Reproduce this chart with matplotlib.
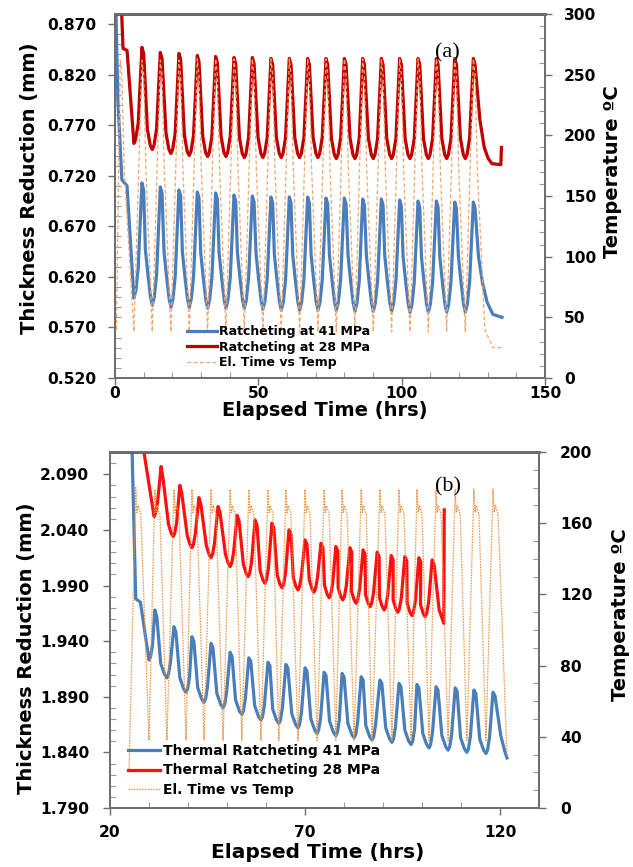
import matplotlib.pyplot as plt
from matplotlib.ticker import MultipleLocator, FixedLocator, FormatStrFormatter

plt.rcParams['font.family'] = ['DejaVu Sans']
plt.rcParams['font.weight'] = 'bold'

# ---------------- panel (a) ----------------
a_xticks = [0, 50, 100, 150]
a_yticks = [0.520, 0.570, 0.620, 0.670, 0.720, 0.770, 0.820, 0.870]
a_y2ticks = [0, 50, 100, 150, 200, 250, 300]

a_trough_t = [6.6, 13.0, 19.5, 25.9, 32.3, 38.7, 45.1, 51.6, 58.0, 64.4, 70.8, 77.2,
              83.7, 90.1, 96.5, 102.9, 109.3, 115.7, 122.2]
a_peak_t = [9.4, 15.8, 22.3, 28.7, 35.1, 41.5, 47.9, 54.4, 60.8, 67.2, 73.6, 80.0,
            86.4, 92.9, 99.3, 105.7, 112.1, 118.5, 125.0]

a41_head_t = [0.2, 1.0, 2.4, 4.2]
a41_head = [0.90, 0.795, 0.716, 0.710]
a41_trough = [0.599, 0.592, 0.590, 0.590, 0.589, 0.589, 0.589, 0.588, 0.587, 0.587,
              0.587, 0.587, 0.586, 0.586, 0.586, 0.585, 0.585, 0.585, 0.585]
a41_peak = [0.713, 0.709, 0.706, 0.704, 0.703, 0.701, 0.700, 0.699, 0.699, 0.699,
            0.698, 0.698, 0.697, 0.697, 0.696, 0.695, 0.695, 0.694, 0.694]
a41_shoulder = [0.706, 0.703, 0.700, 0.698, 0.697, 0.695, 0.694, 0.693, 0.693, 0.693,
                0.692, 0.692, 0.691, 0.691, 0.690, 0.689, 0.689, 0.688, 0.688]
a41_tail_t = [126.8, 128.2, 129.8, 131.8, 135.0]
a41_tail = [0.640, 0.614, 0.595, 0.583, 0.580]
# bends of the curve near each trough: (hours from trough, height above trough)
a41_rise_knees = [(0.7, 0.008), (1.5, 0.030)]
a41_fall_knees = [(2.4, 0.055), (1.5, 0.030), (0.6, 0.008)]

a28_head_t = [2.2, 2.8, 4.2]
a28_head = [0.89, 0.846, 0.844]
a28_trough = [0.752, 0.746, 0.742, 0.740, 0.739, 0.739, 0.738, 0.738, 0.738, 0.738,
              0.738, 0.737, 0.737, 0.737, 0.737, 0.737, 0.737, 0.737, 0.737]
a28_peak = [0.847, 0.842, 0.841, 0.839, 0.838, 0.837, 0.837, 0.836, 0.836, 0.836,
            0.836, 0.836, 0.836, 0.836, 0.836, 0.836, 0.836, 0.836, 0.836]
a28_shoulder = [0.841, 0.836, 0.835, 0.833, 0.832, 0.831, 0.831, 0.830, 0.830, 0.830,
                0.830, 0.830, 0.830, 0.830, 0.830, 0.830, 0.830, 0.830, 0.830]
a28_tail_t = [127.3, 128.8, 130.2, 131.5, 134.6, 134.8]
a28_tail = [0.775, 0.748, 0.737, 0.732, 0.731, 0.748]
a28_rise_knees = [(0.6, 0.004), (1.5, 0.020)]
a28_fall_knees = [(1.7, 0.020), (0.7, 0.004)]

a_temp_head_t = [0.5, 1.8, 2.4, 3.2]
a_temp_head = [40, 262, 250, 172]
a_temp_trough = [38, 38, 38, 38, 38, 38, 38, 38, 38, 38, 38, 38, 38, 38, 38, 38, 38, 38, 38]
a_temp_peak = [262, 262, 262, 263, 263, 263, 263, 263, 263, 263, 263, 263, 263, 263,
               263, 263, 263, 263, 263]
a_temp_after_dt = [0.6, 1.4]
a_temp_after = [250, 172]
a_temp_tail_t = [129.0, 131.8, 135.0]
a_temp_tail = [40, 25, 25]

# ---------------- panel (b) ----------------
b_xticks = [20, 70, 120]
b_yticks = [1.790, 1.840, 1.890, 1.940, 1.990, 2.040, 2.090]
b_y2ticks = [0, 40, 80, 120, 160, 200]

b41_trough_t = [30.0, 34.6, 39.5, 44.1, 49.0, 53.8, 58.7, 63.3, 68.2, 73.1, 77.9, 82.6,
                87.2, 92.3, 97.2, 101.8, 106.7, 111.5, 116.4]
b41_peak_t = [31.5, 36.4, 41.0, 45.9, 50.8, 55.6, 60.5, 65.1, 70.0, 74.9, 79.5, 84.4,
              89.2, 94.1, 98.7, 103.6, 108.5, 113.3, 118.2]
b41_head_t = [25.6, 26.6, 27.8]
b41_head = [2.12, 1.978, 1.975]
b41_trough = [1.923, 1.907, 1.894, 1.885, 1.880, 1.874, 1.869, 1.866, 1.862, 1.857,
              1.855, 1.853, 1.851, 1.849, 1.847, 1.844, 1.842, 1.840, 1.839]
b41_peak = [1.968, 1.953, 1.944, 1.938, 1.930, 1.925, 1.921, 1.919, 1.916, 1.912,
            1.911, 1.908, 1.905, 1.902, 1.901, 1.899, 1.898, 1.896, 1.894]
b41_shoulder = [1.962, 1.948, 1.940, 1.934, 1.926, 1.922, 1.918, 1.916, 1.913, 1.909,
                1.908, 1.905, 1.902, 1.899, 1.898, 1.896, 1.895, 1.893, 1.891]
b41_tail_t = [120.2, 121.3, 121.8]
b41_tail = [1.855, 1.840, 1.835]
b41_rise_knees = [(0.4, 0.003), (0.9, 0.014)]
b41_fall_knees = [(1.6, 0.013), (0.6, 0.003)]

b28_trough_t = [31.3, 36.2, 41.0, 45.9, 50.8, 55.4, 59.7, 64.1, 68.2, 72.3, 76.2, 79.7,
                83.1, 86.7, 90.3, 93.8, 97.4, 100.8]
b28_peak_t = [33.1, 37.9, 42.8, 47.7, 52.6, 57.2, 61.5, 65.9, 70.0, 74.1, 77.9, 81.5,
              84.9, 88.5, 92.1, 95.6, 99.2, 102.6]
b28_head_t = [27.8]
b28_head = [2.13]
b28_trough = [2.052, 2.034, 2.024, 2.015, 2.007, 1.998, 1.992, 1.988, 1.986, 1.984,
              1.979, 1.977, 1.974, 1.971, 1.968, 1.966, 1.963, 1.962]
b28_peak = [2.097, 2.080, 2.069, 2.061, 2.053, 2.049, 2.046, 2.040, 2.031, 2.028,
            2.025, 2.024, 2.022, 2.020, 2.017, 2.016, 2.015, 2.013]
b28_shoulder = [2.086, 2.073, 2.063, 2.056, 2.048, 2.044, 2.042, 2.036, 2.027, 2.024,
                2.021, 2.020, 2.018, 2.016, 2.013, 2.012, 2.011, 2.009]
b28_tail_t = [104.4, 105.6, 105.7]
b28_tail = [1.968, 1.956, 2.058]
b28_rise_knees = [(0.4, 0.003), (0.9, 0.013)]
b28_fall_knees = [(1.2, 0.011), (0.5, 0.003)]

b_temp_trough_t = [24.9] + b41_trough_t
b_temp_peak_t = [26.6] + b41_peak_t
b_temp_trough = [22, 38, 38, 38, 38, 38, 38, 38, 38, 38, 38, 38, 38, 38, 38, 38, 38, 38, 38, 38]
b_temp_peak = [180, 179, 179, 179, 179, 179, 179, 179, 179, 179, 179, 179, 179, 179,
               179, 179, 179, 179, 179, 179]
b_temp_after_dt = [0.3, 0.6, 1.3]
b_temp_after = [166, 170, 165]
b_temp_tail_t = [121.8]
b_temp_tail = [29]


def build(head_t, head_v, tr_t, tr_v, pk_t, pk_v, after_dt, after_v, tail_t, tail_v,
          rise_knees=(), fall_knees=()):
    t, v = list(head_t), list(head_v)
    n = len(tr_t)
    for i in range(n):
        t.append(tr_t[i])
        v.append(tr_v[i])
        for dt, dh in rise_knees:
            t.append(tr_t[i] + dt)
            v.append(tr_v[i] + dh)
        t.append(pk_t[i])
        v.append(pk_v[i])
        t += [pk_t[i] + dt for dt in after_dt]
        v += list(after_v[i])
        if i + 1 < n:
            for dt, dh in fall_knees:
                t.append(tr_t[i + 1] - dt)
                v.append(tr_v[i + 1] + dh)
    return t + list(tail_t), v + list(tail_v)


a41 = build(a41_head_t, a41_head, a_trough_t, a41_trough, a_peak_t, a41_peak, [0.6],
            [[s] for s in a41_shoulder], a41_tail_t, a41_tail, a41_rise_knees, a41_fall_knees)
a28 = build(a28_head_t, a28_head, a_trough_t, a28_trough, a_peak_t, a28_peak, [0.6],
            [[s] for s in a28_shoulder], a28_tail_t, a28_tail, a28_rise_knees, a28_fall_knees)
a_tmp = build(a_temp_head_t, a_temp_head, a_trough_t, a_temp_trough, a_peak_t, a_temp_peak,
              a_temp_after_dt, [a_temp_after] * len(a_peak_t), a_temp_tail_t, a_temp_tail)
b41 = build(b41_head_t, b41_head, b41_trough_t, b41_trough, b41_peak_t, b41_peak, [0.5],
            [[s] for s in b41_shoulder], b41_tail_t, b41_tail, b41_rise_knees, b41_fall_knees)
b28 = build(b28_head_t, b28_head, b28_trough_t, b28_trough, b28_peak_t, b28_peak, [0.5],
            [[s] for s in b28_shoulder], b28_tail_t, b28_tail, b28_rise_knees, b28_fall_knees)
b_tmp = build([], [], b_temp_trough_t, b_temp_trough, b_temp_peak_t, b_temp_peak,
              b_temp_after_dt, [b_temp_after] * len(b_temp_peak_t), b_temp_tail_t, b_temp_tail)

W, H = 633, 867
fig = plt.figure(figsize=(W / 100, H / 100), dpi=100)

blue = '#4A7EBB'
spine_c = '#6E6E6E'


def style(ax, ax2, xlim, xticks, ylim, yticks, y2lim, y2ticks, pad_x, pad_y):
    ax.set_xlim(*xlim)
    ax.set_ylim(*ylim)
    ax2.set_ylim(*y2lim)
    ax.xaxis.set_major_locator(FixedLocator(xticks))
    ax.xaxis.set_minor_locator(MultipleLocator(10))
    ax.yaxis.set_major_locator(FixedLocator(yticks))
    ax.yaxis.set_minor_locator(MultipleLocator(0.01))
    ax.yaxis.set_major_formatter(FormatStrFormatter('%.3f'))
    ax2.yaxis.set_major_locator(FixedLocator(y2ticks))
    ax2.yaxis.set_minor_locator(MultipleLocator(10))
    for a in (ax, ax2):
        for s in a.spines.values():
            s.set_color(spine_c)
            s.set_linewidth(1.4)
        a.tick_params(which='major', direction='out', length=5, width=1, color=spine_c,
                      labelsize=11.2)
        a.tick_params(which='minor', direction='in', length=4, width=0.8, color='#9A9A9A')
    ax.tick_params(axis='x', which='major', pad=pad_x)
    ax.tick_params(axis='y', which='major', pad=pad_y)
    ax2.tick_params(axis='y', which='major', pad=pad_y)
    ax.spines['top'].set_color('#555555')
    ax.spines['top'].set_linewidth(2)


# ---- (a) ----
ax = fig.add_axes([115 / W, 1 - 378 / H, 430 / W, 364 / H])
ax2 = ax.twinx()
l1, = ax.plot(a41[0], a41[1], color=blue, lw=2.3, label='Ratcheting at 41 MPa')
l2, = ax.plot(a28[0], a28[1], color='#C00000', lw=2.3, label='Ratcheting at 28 MPa')
l3, = ax2.plot(a_tmp[0], a_tmp[1], color='#F4A46A', lw=0.9, ls=(0, (3, 2)), label='El. Time vs Temp')
style(ax, ax2, (0, 150), a_xticks, (0.52, 0.88), a_yticks, (0, 300), a_y2ticks, 0.5, 8.6)
ax2.legend(handles=[l1, l2, l3], loc='upper left', bbox_to_anchor=(0.167, 0.145),
           frameon=False, borderpad=0, borderaxespad=0, handlelength=2.4,
           handletextpad=0.15, labelspacing=0.2, prop={'size': 9, 'weight': 'bold'})
ax2.text(0.774, 0.893, '(a)', transform=ax2.transAxes, ha='center', va='center',
         fontsize=16, fontweight='normal', family='Liberation Serif')

fig.text(30 / W, 1 - 188 / H, 'Thickness Reduction (mm)', rotation=90, ha='center',
         va='center', fontsize=14)
fig.text(612 / W, 1 - 172 / H, 'Temperature ºC', rotation=90, ha='center',
         va='center', fontsize=14)
fig.text(325 / W, 1 - 411 / H, 'Elapsed Time (hrs)', ha='center', va='center', fontsize=14)

# ---- (b) ----
bx = fig.add_axes([110 / W, 1 - 808 / H, 429 / W, 356 / H])
bx2 = bx.twinx()
m1, = bx.plot(b41[0], b41[1], color=blue, lw=2.3, label='Thermal Ratcheting 41 MPa')
m2, = bx.plot(b28[0], b28[1], color='#FF1010', lw=2.3, label='Thermal Ratcheting 28 MPa')
m3, = bx2.plot(b_tmp[0], b_tmp[1], color='#F0903A', lw=0.9, ls=(0, (1.2, 1)), label='El. Time vs Temp')
style(bx, bx2, (20, 130), b_xticks, (1.79, 2.11), b_yticks, (0, 200), b_y2ticks, 7, 10)
bx2.legend(handles=[m1, m2, m3], loc='upper left', bbox_to_anchor=(0.042, 0.18),
           frameon=False, borderpad=0, borderaxespad=0, handlelength=2.3,
           handletextpad=0.2, labelspacing=0.4, prop={'size': 10, 'weight': 'bold'})
bx2.text(0.788, 0.902, '(b)', transform=bx2.transAxes, ha='center', va='center',
         fontsize=16, fontweight='normal', family='Liberation Serif')

fig.text(27 / W, 1 - 648 / H, 'Thickness Reduction (mm)', rotation=90, ha='center',
         va='center', fontsize=14)
fig.text(620 / W, 1 - 615 / H, 'Temperature ºC', rotation=90, ha='center',
         va='center', fontsize=14)
fig.text(318 / W, 1 - 853 / H, 'Elapsed Time (hrs)', ha='center', va='center', fontsize=14.5)

fig.savefig('out.png', dpi=100)
